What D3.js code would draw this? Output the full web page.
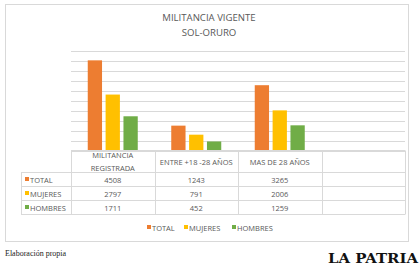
<!DOCTYPE html>
<html>
<head>
<meta charset="utf-8">
<script src="https://cdn.jsdelivr.net/npm/d3@7"></script>
<style>
  body { margin: 0; background: #fff; }
  svg { display: block; }
</style>
</head>
<body>
<svg id="chart" width="420" height="264"></svg>
<script>
// data
const categories = ['MILITANCIA\nREGISTRADA', 'ENTRE +18 -28 AÑOS', 'MAS DE 28 AÑOS', ''];
const series = ['TOTAL', 'MUJERES', 'HOMBRES'];
const total   = [4508, 1243, 3265];
const mujeres = [2797, 791, 2006];
const hombres = [1711, 452, 1259];
const yTicks = d3.range(0, 5001, 500);
const colors = ['#ed7d31', '#ffc000', '#70ad47'];

const values = [total, mujeres, hombres];
const font = "'Open Sans', sans-serif";
const grey = '#595959';
const lineCol = '#d9d9d9';
const fs = 7.5;

const svg = d3.select('#chart');

// chart frame
svg.append('rect')
    .attr('x', 5.5).attr('y', 4.5)
    .attr('width', 403).attr('height', 237)
    .attr('fill', '#fff')
    .attr('stroke', lineCol);

// title
const title = svg.append('text')
    .attr('x', 209).attr('text-anchor', 'middle')
    .attr('font-family', font).attr('font-size', 9.6).attr('fill', grey);
title.append('tspan').attr('x', 209).attr('y', 21).text('MILITANCIA VIGENTE');
title.append('tspan').attr('x', 209).attr('y', 36).text('SOL-ORURO');

const x = d3.scaleBand().domain(categories).range([71, 405]);
const x1 = d3.scaleBand().domain(series)
    .range([x.bandwidth() / 2 - 25, x.bandwidth() / 2 + 25])
    .paddingInner(0.2);
const y = d3.scaleLinear().domain([0, 5000]).range([150.5, 50.5]);

// gridlines
svg.append('g').selectAll('line')
    .data(yTicks)
    .join('line')
    .attr('x1', 71).attr('x2', 405)
    .attr('y1', d => Math.round(y(d)) + 0.5)
    .attr('y2', d => Math.round(y(d)) + 0.5)
    .attr('stroke', lineCol);

// bars
const groups = svg.append('g').selectAll('g')
    .data(categories.slice(0, 3))
    .join('g')
    .attr('transform', d => `translate(${x(d)},0)`);

groups.selectAll('rect')
    .data((d, i) => series.map((s, j) => ({ s: s, v: values[j][i], c: colors[j] })))
    .join('rect')
    .attr('x', d => x1(d.s))
    .attr('width', x1.bandwidth())
    .attr('y', d => y(d.v))
    .attr('height', d => y(0) - y(d.v))
    .attr('fill', d => d.c);

// data table
const rowTop = [172.5, 186.5, 200.5, 214.5];
const tbl = svg.append('g').attr('stroke', lineCol).attr('fill', 'none');
// header horizontal lines
tbl.append('line').attr('x1', 71).attr('x2', 405).attr('y1', 150.5).attr('y2', 150.5);
rowTop.forEach(yy => {
    tbl.append('line').attr('x1', 21).attr('x2', 405).attr('y1', yy).attr('y2', yy);
});
// vertical lines
tbl.append('line').attr('x1', 21.5).attr('x2', 21.5).attr('y1', 172.5).attr('y2', 214.5);
categories.forEach(c => {
    const xx = Math.round(x(c)) + 0.5;
    tbl.append('line').attr('x1', xx).attr('x2', xx).attr('y1', 150.5).attr('y2', 214.5);
});
tbl.append('line').attr('x1', 405.5).attr('x2', 405.5).attr('y1', 150.5).attr('y2', 214.5);

// header labels
categories.forEach(c => {
    const lines = c.split('\n');
    const cx = x(c) + x.bandwidth() / 2;
    const t = svg.append('text')
        .attr('text-anchor', 'middle')
        .attr('font-family', font).attr('font-size', fs).attr('fill', grey);
    lines.forEach((l, k) => {
        t.append('tspan').attr('x', cx)
            .attr('y', 164.5 + (k - (lines.length - 1) / 2) * 12.5)
            .text(l);
    });
});

// rows
series.forEach((s, j) => {
    const cy = rowTop[j] + 10;
    svg.append('rect')
        .attr('x', 25).attr('y', cy - 5.5)
        .attr('width', 4).attr('height', 4)
        .attr('fill', colors[j]);
    svg.append('text')
        .attr('x', 30).attr('y', cy)
        .attr('font-family', font).attr('font-size', fs).attr('fill', grey)
        .text(s);
    values[j].forEach((v, i) => {
        svg.append('text')
            .attr('x', x(categories[i]) + x.bandwidth() / 2).attr('y', cy)
            .attr('text-anchor', 'middle')
            .attr('font-family', font).attr('font-size', fs).attr('fill', grey)
            .text(v);
    });
});

// legend
const legX = [147, 184, 232];
series.forEach((s, j) => {
    svg.append('rect')
        .attr('x', legX[j]).attr('y', 225)
        .attr('width', 4).attr('height', 4)
        .attr('fill', colors[j]);
    svg.append('text')
        .attr('x', legX[j] + 5).attr('y', 230.7)
        .attr('font-family', font).attr('font-size', fs).attr('fill', grey)
        .text(s);
});

// footer
svg.append('text')
    .attr('x', 5).attr('y', 256)
    .attr('font-family', "'Liberation Serif', serif").attr('font-size', 8).attr('fill', '#222')
    .text('Elaboración propia');
svg.append('text')
    .attr('x', 328).attr('y', 262.5)
    .attr('font-family', "'DejaVu Serif', serif").attr('font-weight', 'bold')
    .attr('font-size', 13).attr('fill', '#111')
    .attr('textLength', 90).attr('lengthAdjust', 'spacingAndGlyphs')
    .text('LA PATRIA');
</script>
</body>
</html>
